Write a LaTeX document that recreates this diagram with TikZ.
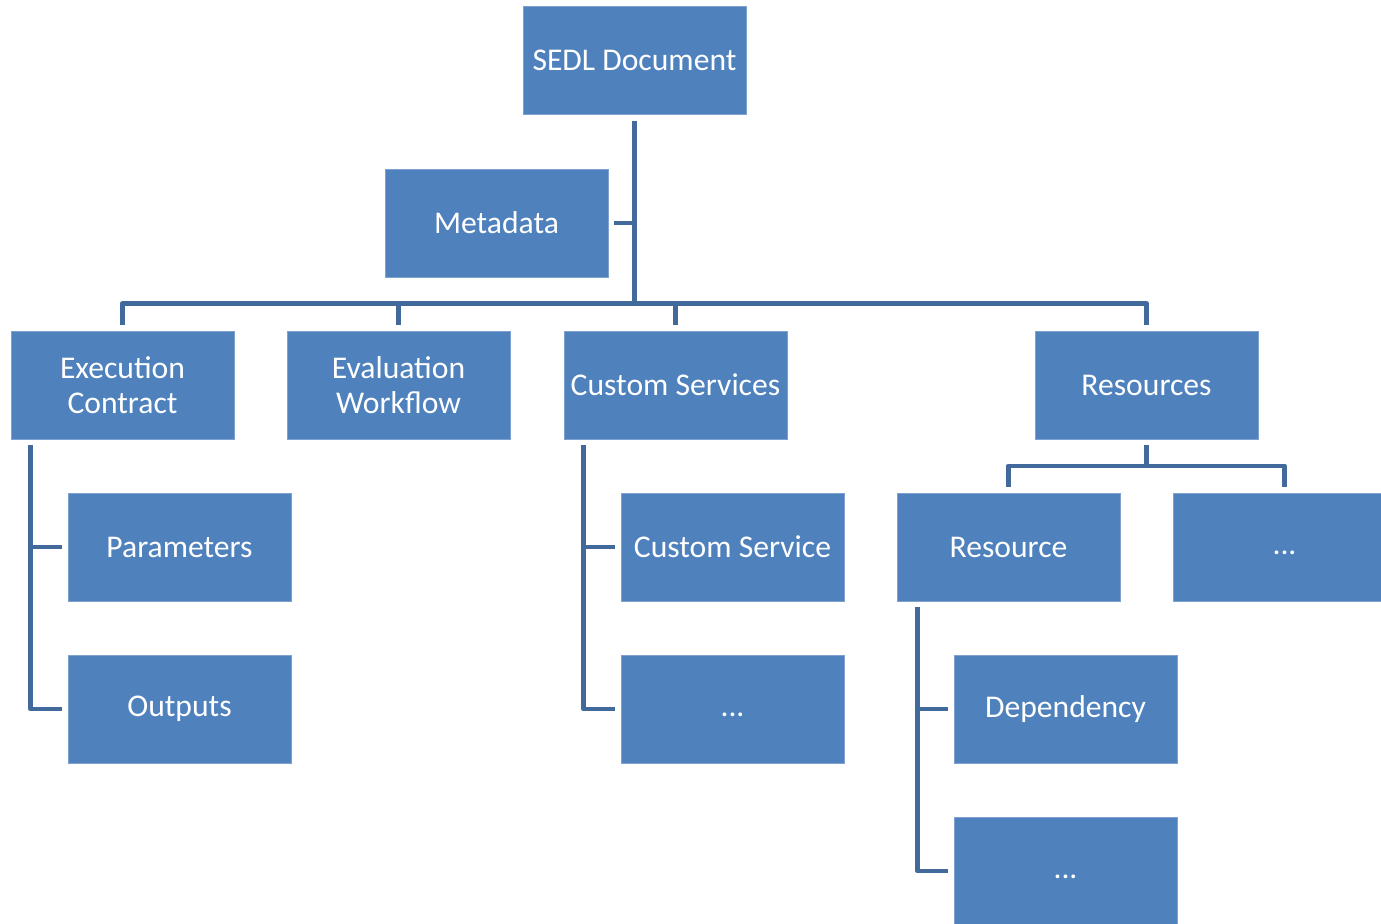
\documentclass[tikz,border=0pt]{standalone}
\usepackage{fontspec}
\setmainfont{Carlito}
\usetikzlibrary{calc}
\definecolor{boxblue}{HTML}{4F81BD}
\definecolor{boxedge}{HTML}{7FA1CF}
\definecolor{linkblue}{HTML}{41699C}

\begin{document}
\begin{tikzpicture}[x=1cm,y=1cm,
			box/.style = {draw=boxedge,line width=0.5pt,fill=boxblue,text=white,align=center,
				minimum width=4.46cm,minimum height=2.16cm,inner sep=0pt,
				font=\fontsize{18}{20}\selectfont},
			link/.style = {draw=linkblue,line width=2.8pt,line join=round}]
			\clip (0,0) rectangle (27.62,-18.48);
			% top level
			\node [box] (sedl) at (12.69,-1.21) {SEDL Document};
			\node [box] (meta) at (9.93,-4.46) {Metadata};
			% second level
			\node [box] (exec) at (2.45,-7.70) {Execution\\Contract};
			\node [box] (eval) at (7.97,-7.70) {Evaluation\\Workflow};
			\node [box] (csvcs) at (13.51,-7.70) {Custom Services};
			\node [box] (res) at (22.93,-7.70) {Resources};
			% third level
			\node [box] (param) at (3.59,-10.94) {Parameters};
			\node [box] (outp) at (3.59,-14.18) {Outputs};
			\node [box] (csvc) at (14.65,-10.94) {Custom Service};
			\node [box] (csdots) at (14.65,-14.18) {\vphantom{Ag}...};
			\node [box] (resrc) at (20.17,-10.94) {Resource};
			\node [box] (resdots) at (25.69,-10.94) {\vphantom{Ag}...};
			\node [box] (dep) at (21.31,-14.18) {Dependency};
			\node [box] (depdots) at (21.31,-17.42) {\vphantom{Ag}...};
			% connectors
			\coordinate (bus) at (0,-6.07);
			\coordinate (rbus) at (0,-9.32);
			\draw [link] ([yshift=-0.13cm]sedl.south) -- (sedl.south |- bus);
			\draw [link] ([xshift=0.12cm]meta.east) -- (meta.east -| sedl.south);
			\draw [link] ([yshift=0.12cm]exec.north) -- (exec.north |- bus) -- (res.north |- bus) -- ([yshift=0.12cm]res.north);
			\draw [link] ([yshift=0.12cm]eval.north) -- (eval.north |- bus);
			\draw [link] ([yshift=0.12cm]csvcs.north) -- (csvcs.north |- bus);
			\draw [link] ([xshift=0.4cm,yshift=-0.12cm]exec.south west) |- ([xshift=-0.12cm]outp.west);
			\draw [link] ([xshift=0.4cm]exec.south west |- param.west) -- ([xshift=-0.12cm]param.west);
			\draw [link] ([xshift=0.4cm,yshift=-0.12cm]csvcs.south west) |- ([xshift=-0.12cm]csdots.west);
			\draw [link] ([xshift=0.4cm]csvcs.south west |- csvc.west) -- ([xshift=-0.12cm]csvc.west);
			\draw [link] ([yshift=-0.12cm]res.south) -- (res.south |- rbus);
			\draw [link] ([yshift=0.12cm]resrc.north) -- (resrc.north |- rbus) -- (resdots.north |- rbus) -- ([yshift=0.12cm]resdots.north);
			\draw [link] ([xshift=0.42cm,yshift=-0.12cm]resrc.south west) |- ([xshift=-0.12cm]depdots.west);
			\draw [link] ([xshift=0.42cm]resrc.south west |- dep.west) -- ([xshift=-0.12cm]dep.west);
		\end{tikzpicture}
\end{document}
